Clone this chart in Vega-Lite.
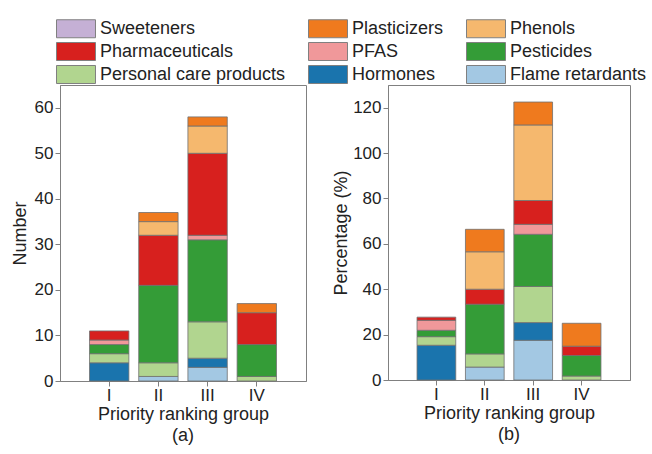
{
  "$schema": "https://vega.github.io/schema/vega-lite/v6.json",
  "padding": {"left": 10, "top": 19, "right": 5, "bottom": 5},
  "spacing": 25,
  "config": {
    "font": "Liberation Sans",
    "view": {"stroke": "#808080", "strokeWidth": 1},
    "axis": {
      "domainColor": "#808080", "tickColor": "#808080", "tickSize": 5,
      "labelFontSize": 17, "titleFontSize": 18, "titleFontWeight": "normal",
      "labelColor": "#222222", "titleColor": "#222222", "grid": false, "labelPadding": 1
    },
    "legend": {
      "orient": "none", "legendX": -4, "legendY": -66, "columns": 3, "direction": "horizontal",
      "symbolType": "M-1,-1H3.333V1H-1Z", "symbolSize": 324,
      "symbolStrokeColor": "#808080", "symbolStrokeWidth": 1, "symbolOpacity": 1,
      "labelFontSize": 18, "labelColor": "#222222", "labelOffset": 25,
      "columnPadding": 20, "rowPadding": 0, "labelLimit": 400
    },
    "title": {"fontSize": 18, "fontWeight": "normal", "color": "#222222", "orient": "bottom", "anchor": "middle", "offset": 4}
  },
  "datasets": {
    "number": [
      {"group": "I", "category": "Hormones", "value": 4},
      {"group": "I", "category": "Personal care products", "value": 2},
      {"group": "I", "category": "Pesticides", "value": 2},
      {"group": "I", "category": "PFAS", "value": 1},
      {"group": "I", "category": "Pharmaceuticals", "value": 2},
      {"group": "II", "category": "Flame retardants", "value": 1},
      {"group": "II", "category": "Personal care products", "value": 3},
      {"group": "II", "category": "Pesticides", "value": 17},
      {"group": "II", "category": "Pharmaceuticals", "value": 11},
      {"group": "II", "category": "Phenols", "value": 3},
      {"group": "II", "category": "Plasticizers", "value": 2},
      {"group": "III", "category": "Flame retardants", "value": 3},
      {"group": "III", "category": "Hormones", "value": 2},
      {"group": "III", "category": "Personal care products", "value": 8},
      {"group": "III", "category": "Pesticides", "value": 18},
      {"group": "III", "category": "PFAS", "value": 1},
      {"group": "III", "category": "Pharmaceuticals", "value": 18},
      {"group": "III", "category": "Phenols", "value": 6},
      {"group": "III", "category": "Plasticizers", "value": 2},
      {"group": "IV", "category": "Personal care products", "value": 1},
      {"group": "IV", "category": "Pesticides", "value": 7},
      {"group": "IV", "category": "Pharmaceuticals", "value": 7},
      {"group": "IV", "category": "Plasticizers", "value": 2}
    ],
    "percent": [
      {"group": "I", "category": "Hormones", "value": 15.3},
      {"group": "I", "category": "Personal care products", "value": 3.8},
      {"group": "I", "category": "Pesticides", "value": 2.8},
      {"group": "I", "category": "PFAS", "value": 4.4},
      {"group": "I", "category": "Pharmaceuticals", "value": 1.4},
      {"group": "II", "category": "Flame retardants", "value": 5.7},
      {"group": "II", "category": "Personal care products", "value": 5.8},
      {"group": "II", "category": "Pesticides", "value": 21.9},
      {"group": "II", "category": "Pharmaceuticals", "value": 6.6},
      {"group": "II", "category": "Phenols", "value": 16.5},
      {"group": "II", "category": "Plasticizers", "value": 9.9},
      {"group": "III", "category": "Flame retardants", "value": 17.5},
      {"group": "III", "category": "Hormones", "value": 7.8},
      {"group": "III", "category": "Personal care products", "value": 15.9},
      {"group": "III", "category": "Pesticides", "value": 23.0},
      {"group": "III", "category": "PFAS", "value": 4.4},
      {"group": "III", "category": "Pharmaceuticals", "value": 10.5},
      {"group": "III", "category": "Phenols", "value": 33.3},
      {"group": "III", "category": "Plasticizers", "value": 10.1},
      {"group": "IV", "category": "Personal care products", "value": 1.75},
      {"group": "IV", "category": "Pesticides", "value": 9.05},
      {"group": "IV", "category": "Pharmaceuticals", "value": 4.1},
      {"group": "IV", "category": "Plasticizers", "value": 10.1}
    ]
  },
  "hconcat": [
    {
      "width": 246, "height": 296,
      "title": {"text": "(a)"},
      "data": {"name": "number"},
      "transform": [{"stack": "value", "groupby": ["group"], "as": ["v0", "v1"]}],
      "mark": {"type": "bar", "stroke": "#707070", "strokeWidth": 0.8},
      "encoding": {
        "x": {"field": "group", "type": "ordinal", "title": "Priority ranking group",
              "scale": {"domain": ["I", "II", "III", "IV"], "paddingInner": 0.2, "paddingOuter": 0.6},
              "axis": {"labelAngle": 0, "titlePadding": 2}},
        "y": {"field": "v1", "type": "quantitative", "title": "Number",
              "scale": {"domain": [0, 65], "nice": false},
              "axis": {"values": [0, 10, 20, 30, 40, 50, 60], "titlePadding": 5, "labelPadding": 2}},
        "y2": {"field": "v0"},
        "color": {"field": "category", "type": "nominal",
                  "scale": {"domain": ["Sweeteners", "Plasticizers", "Phenols", "Pharmaceuticals", "PFAS", "Pesticides", "Personal care products", "Hormones", "Flame retardants"],
                            "range": ["#c5b0d5", "#ef7a1e", "#f5b86e", "#d7201e", "#f0989a", "#349c37", "#b1d58f", "#1a74ad", "#a3c8e3"]},
                  "legend": {"title": null}}
      }
    },
    {
      "width": 242, "height": 295,
      "title": {"text": "(b)"},
      "data": {"name": "percent"},
      "transform": [{"stack": "value", "groupby": ["group"], "as": ["v0", "v1"]}],
      "mark": {"type": "bar", "stroke": "#707070", "strokeWidth": 0.8},
      "encoding": {
        "x": {"field": "group", "type": "ordinal", "title": "Priority ranking group",
              "scale": {"domain": ["I", "II", "III", "IV"], "paddingInner": 0.2, "paddingOuter": 0.6},
              "axis": {"labelAngle": 0, "titlePadding": 2}},
        "y": {"field": "v1", "type": "quantitative", "title": "Percentage (%)",
              "scale": {"domain": [0, 130], "nice": false},
              "axis": {"values": [0, 20, 40, 60, 80, 100, 120], "titlePadding": 2, "labelPadding": 2}},
        "y2": {"field": "v0"},
        "color": {"field": "category", "type": "nominal",
                  "scale": {"domain": ["Sweeteners", "Plasticizers", "Phenols", "Pharmaceuticals", "PFAS", "Pesticides", "Personal care products", "Hormones", "Flame retardants"],
                            "range": ["#c5b0d5", "#ef7a1e", "#f5b86e", "#d7201e", "#f0989a", "#349c37", "#b1d58f", "#1a74ad", "#a3c8e3"]},
                  "legend": {"title": null}}
      }
    }
  ]
}
